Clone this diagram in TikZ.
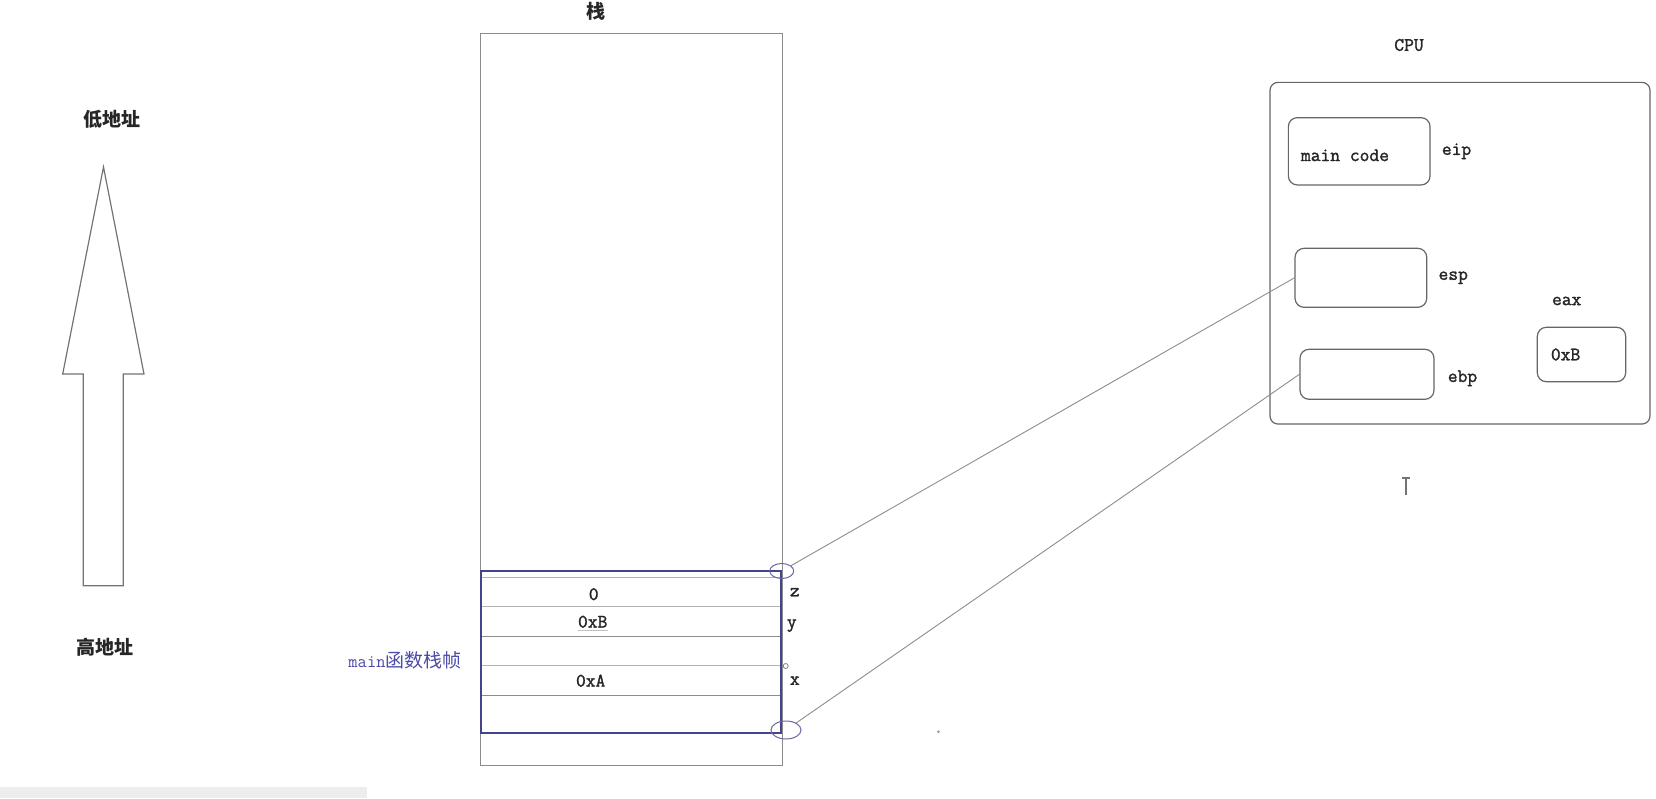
\documentclass[tikz,border=0pt]{standalone}
\usepackage{fontspec}
\setmonofont{Latin Modern Mono}[BoldFont={Latin Modern Mono}, BoldFeatures={FakeBold=1.6}]
\newfontfamily\cjk{Noto Sans CJK SC}
\usetikzlibrary{positioning, shapes.geometric}
\definecolor{framecol}{HTML}{44448C}
\definecolor{labelblue}{HTML}{4A4AA8}

\begin{document}
\begin{tikzpicture}[x=1pt, y=-1pt, node distance=0pt,
    cell/.style={draw=black!45, line width=1.2pt, inner sep=0pt},
    slot/.style={draw=black!30, line width=1pt, minimum width=300pt, minimum height=29.5pt, inner sep=0pt, outer sep=0pt},
    frame/.style={draw=framecol, line width=1.7pt, inner sep=0pt},
    ring/.style={ellipse, draw=framecol!80, line width=1pt, inner sep=0pt},
    dot/.style={circle, draw=black!50, line width=0.8pt, minimum size=5pt, inner sep=0pt},
    reg/.style={draw=black!60, line width=1.2pt, rounded corners=9pt, inner sep=0pt},
    mono/.style={font=\ttfamily\bfseries\fontsize{19}{21}\selectfont, text=black!85, inner sep=0pt},
    cjktext/.style={font=\cjk\bfseries\fontsize{19}{21}\selectfont, text=black!85, inner sep=0pt},
    wire/.style={draw=black!45, line width=0.9pt},
    outline/.style={draw=black!55, line width=1.2pt}]

    \useasboundingbox (0,0) rectangle (1656,798);
    \fill[black!7] (0,787) rectangle (367,798);

    % Stack
    \node[cell, minimum width=301.6pt, minimum height=732.4pt] (stack) at (631.5,399.5) {};
    \node[cjktext] (stacktitle) at (596,11) {栈};

    % Slots of the main frame
    \node[slot] (s1) at (630.7,592.2) {};
    \node[slot, below=of s1] (s2) {};
    \node[slot, below=of s2, draw=black!45] (s3) {};
    \node[slot, below=of s3] (s4) {};
    \node[slot, below=of s4, minimum height=37pt, draw=black!45] (s5) {};
    \node[frame, minimum width=300pt, minimum height=161.7pt] (frame) at (630.7,651.85) {};

    \node[mono, yshift=-2pt] (v1) at ([xshift=-37pt]s1.center) {0};
    \node[mono] (v2) at ([xshift=-38pt]s2.center) {0xB};
    \node[mono] (v4) at ([xshift=-40pt]s4.center) {0xA};
    \draw[black!25, line width=1pt] ([yshift=-3pt]v2.south west) -- ([yshift=-3pt]v2.south east);

    \node[mono, right=9pt of s1] (z) {z};
    \node[mono, right=6pt of s2, yshift=-4pt] (y) {y};
    \node[mono, right=9pt of s4] (x) {x};
    \node[dot] (xdot) at (785.7,666) {};

    \node[ring, minimum width=24pt, minimum height=15pt] (topring) at (781.7,571) {};
    \node[ring, minimum width=30pt, minimum height=18pt] (botring) at (786,730) {};

    \node[font=\cjk\fontsize{19}{21}\selectfont, text=labelblue, inner sep=0pt] (framelabel) at (405,660.7) {{\ttfamily\fontsize{18}{20}\selectfont main}函数栈帧};

    % CPU
    \node[reg, rounded corners=8pt, minimum width=380pt, minimum height=341.7pt] (cpu) at (1460,253.2) {};
    \node[mono] (cputitle) at (1409,45) {CPU};

    \node[reg, minimum width=141.7pt, minimum height=67.3pt] (eip) at (1359.2,151.3) {};
    \node[mono, right=13pt of eip.west, yshift=-4pt] (eipval) {main code};
    \node[mono, right=11pt of eip] (eiplabel) {eip};

    \node[reg, minimum width=131.7pt, minimum height=59pt] (esp) at (1360.9,277.8) {};
    \node[mono, right=11pt of esp] (esplabel) {esp};

    \node[reg, minimum width=134pt, minimum height=50pt] (ebp) at (1367,374.3) {};
    \node[mono, right=13pt of ebp, yshift=-4pt] (ebplabel) {ebp};

    \node[reg, minimum width=88.4pt, minimum height=54.4pt] (eax) at (1581.5,354.5) {};
    \node[mono, right=14pt of eax.west] (eaxval) {0xB};
    \node[mono] (eaxlabel) at (1566.7,301) {eax};

    % Pointers
    \draw[wire] (topring) -- (esp.west);
    \draw[wire] (botring) -- (ebp.west);

    % Address arrow
    \draw[outline] (103.5,167) -- (144,374) -- (123.3,374) -- (123.3,585.7)
        -- (83.3,585.7) -- (83.3,374) -- (62.7,374) -- cycle;
    \node[cjktext] (low) at (111.7,119.3) {低地址};
    \node[cjktext] (high) at (104.7,647.3) {高地址};

    % Cursor and speck
    \draw[black!55, line width=2pt] (1406,478) -- (1406,495);
    \draw[black!55, line width=1.5pt] (1402,478) -- (1410,478);
    \fill[black!40] (938.3,731.7) circle (1.5);

\end{tikzpicture}
\end{document}
